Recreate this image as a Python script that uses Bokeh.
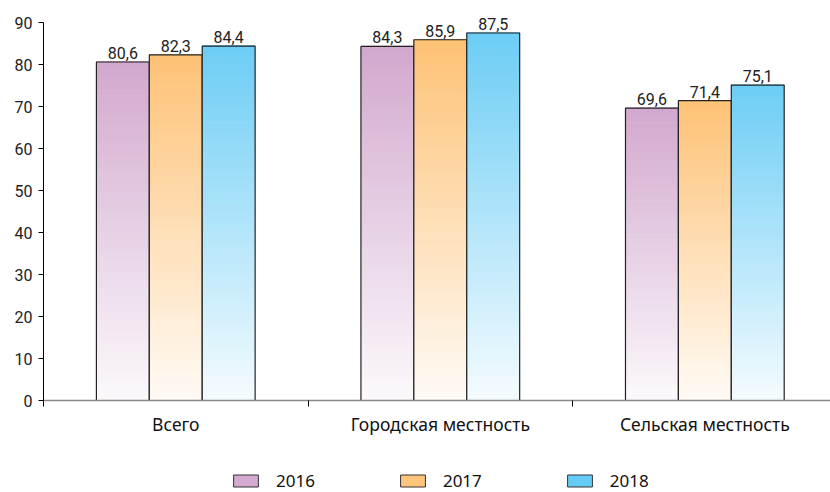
from bokeh.plotting import figure
from bokeh.layouts import column
from bokeh.models import Range1d, FixedTicker, ColumnDataSource, Legend, LegendItem, LabelSet
from bokeh.embed import file_html
from bokeh.resources import INLINE
from bokeh.core.properties import value

categories = ["Всего", "Городская местность", "Сельская местность"]
years = ["2016", "2017", "2018"]
v2016 = [80.6, 84.3, 69.6]
v2017 = [82.3, 85.9, 71.4]
v2018 = [84.4, 87.5, 75.1]
y_ticks = [0, 10, 20, 30, 40, 50, 60, 70, 80, 90]

series = [v2016, v2017, v2018]
top_colors = [(210, 168, 206), (254, 194, 118), (108, 205, 245)]
legend_colors = ["#d4aad0", "#ffc57a", "#66ccf5"]
offsets = [-0.2, 0.0, 0.2]
bar_w = 0.2

p = figure(width=830, height=438, output_backend="svg", toolbar_location=None,
           x_range=Range1d(0, 2.975), y_range=Range1d(0, 93.1),
           min_border_left=43, min_border_right=0, min_border_top=9, min_border_bottom=38)
p.outline_line_color = None
p.grid.visible = False
p.background_fill_color = "white"

N = 60
def hexc(c):
    return "#%02x%02x%02x" % tuple(int(round(x)) for x in c)

for s, vals, col, off in zip(years, series, top_colors, offsets):
    xs = [i + 0.5 + off for i in range(len(vals))]
    left, right, bottom, top, fills = [], [], [], [], []
    for x, v in zip(xs, vals):
        for k in range(N):
            h = (k + 0.5) / N
            t = 0.07 + 0.93 * h
            left.append(x - bar_w / 2)
            right.append(x + bar_w / 2)
            bottom.append(v * k / N)
            top.append(v * (k + 1) / N + v * 0.002)
            fills.append(hexc([255 + (c - 255) * t for c in col]))
    src = ColumnDataSource(dict(left=left, right=right, bottom=bottom, top=top, fill=fills))
    p.quad(left="left", right="right", bottom="bottom", top="top", fill_color="fill",
           line_color=None, source=src)
    osrc = ColumnDataSource(dict(x=xs, top=vals, lab=[("%.1f" % v).replace(".", ",") for v in vals]))
    p.vbar(x="x", top="top", width=bar_w, bottom=0, source=osrc, fill_color=None,
           line_color="#222222", line_width=1.2)
    lab = LabelSet(x="x", y="top", text="lab", source=osrc, text_align="center",
                   text_baseline="bottom", y_offset=3, text_font=value("Roboto"),
                   text_font_size="16px", text_color="#222222")
    p.add_layout(lab)

# y axis
p.yaxis.ticker = FixedTicker(ticks=y_ticks)
p.yaxis.bounds = (y_ticks[0], y_ticks[-1])
p.yaxis.minor_tick_line_color = None
p.yaxis.major_tick_in = 0
p.yaxis.major_tick_out = 5
p.yaxis.axis_line_color = "#000000"
p.yaxis.major_tick_line_color = "#000000"
p.yaxis.major_label_text_font = "Roboto"
p.yaxis.major_label_text_font_size = "16px"
p.yaxis.major_label_text_color = "#222222"
p.yaxis.major_label_standoff = 6

# x axis
centers = [i + 0.5 for i in range(len(categories))]
p.xaxis.ticker = FixedTicker(ticks=centers, minor_ticks=[0, 1, 2, 3])
p.xaxis.major_label_overrides = {c: lab for c, lab in zip(centers, categories)}
p.xaxis.major_tick_line_color = None
p.xaxis.major_tick_in = 0
p.xaxis.major_tick_out = 0
p.xaxis.minor_tick_in = 0
p.xaxis.minor_tick_out = 6
p.xaxis.minor_tick_line_color = "#000000"
p.xaxis.axis_line_color = "#888888"
p.xaxis.axis_line_width = 1.5
p.xaxis.major_label_text_font = "Noto Sans"
p.xaxis.major_label_text_font_size = "17.5px"
p.xaxis.major_label_text_color = "#111111"
p.xaxis.major_label_standoff = 5

# legend in its own small figure
lf = figure(width=830, height=54, output_backend="svg", toolbar_location=None,
            x_range=Range1d(0, 1), y_range=Range1d(0, 1),
            x_axis_location=None, y_axis_location=None, min_border=0)
lf.outline_line_color = None
lf.grid.visible = False
legend_items = []
for s, c in zip(years, legend_colors):
    r = lf.vbar(x=[float("nan")], top=[float("nan")], width=0.1, fill_color=c, line_color="#333333")
    legend_items.append(LegendItem(label=s, renderers=[r]))
legend = Legend(items=legend_items, orientation="horizontal", location=(187, 0),
                glyph_width=31, glyph_height=15, label_standoff=15, spacing=82,
                label_text_font="Noto Sans", label_text_font_size="17px",
                label_text_color="#111111", border_line_color=None,
                background_fill_alpha=0, margin=0, padding=0)
lf.add_layout(legend, "center")

layout = column(p, lf, spacing=0)
open("out.html", "w").write(file_html(layout, INLINE))
